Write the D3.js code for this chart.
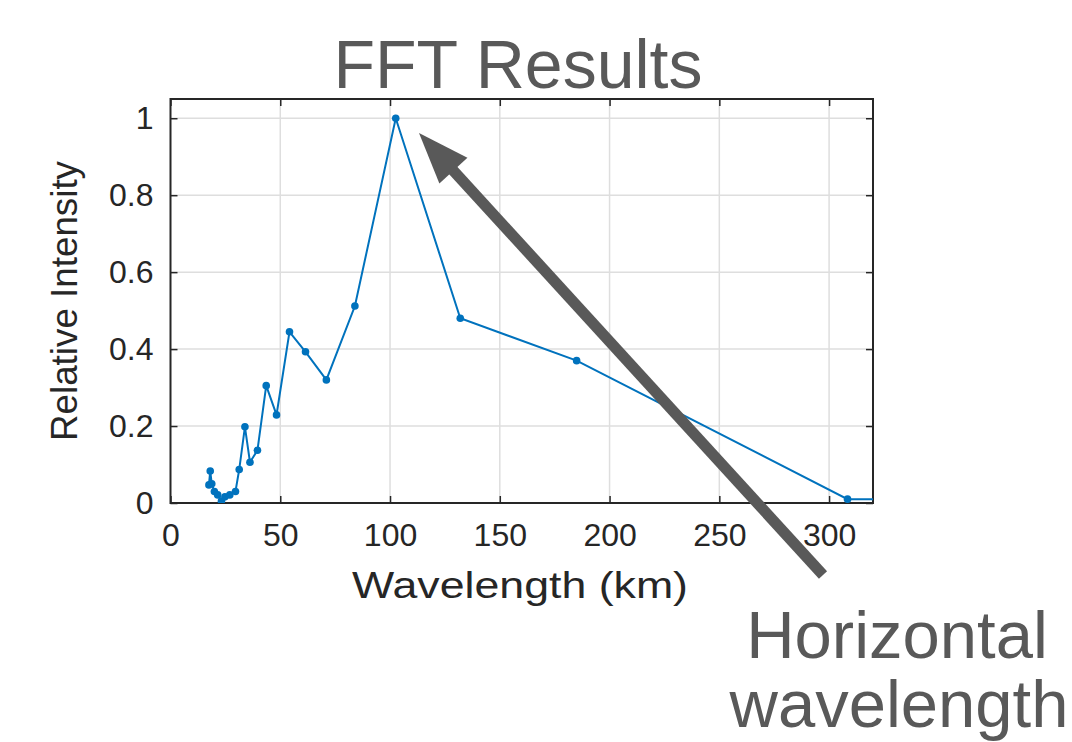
<!DOCTYPE html>
<html>
<head>
<meta charset="utf-8">
<script src="https://cdn.jsdelivr.net/npm/d3@7"></script>
<style>
  html, body { margin: 0; padding: 0; background: #fff; }
  svg { display: block; font-family: "Liberation Sans", Arial, sans-serif; }
</style>
</head>
<body>
<div id="chart"></div>
<script>
// values
var wavelengths = [17.5, 18.1, 18.8, 20.0, 21.5, 23.2, 24.8, 27.0, 29.6, 31.3, 33.9, 36.2, 39.6, 43.6, 48.3, 54.2, 61.5, 71.0, 84.0, 102.6, 132.0, 185.0, 308.4, 924.0];
var intensities = [0.047, 0.083, 0.050, 0.030, 0.021, 0.005, 0.016, 0.021, 0.030, 0.087, 0.198, 0.106, 0.137, 0.305, 0.229, 0.445, 0.393, 0.320, 0.512, 1.0, 0.480, 0.370, 0.010, 0.010];
var xTicks = [0, 50, 100, 150, 200, 250, 300];
var yTicks = [0, 0.2, 0.4, 0.6, 0.8, 1];

var width = 1072, height = 742;
var plot = { left: 170.5, right: 873, top: 99, bottom: 503 };
var axisColor = '#262626';
var gray = '#595959';
var blue = '#0072BD';

var svg = d3.select('#chart')
    .append('svg')
    .attr('width', width)
    .attr('height', height);

var x = d3.scaleLinear().domain([0, 320]).range([plot.left, plot.right]);
var y = d3.scaleLinear().domain([0, 1.05]).range([plot.bottom, plot.top]);

let points = wavelengths.map((w, i) => ({ w: w, v: intensities[i] }));

svg.append('defs').append('clipPath').attr('id', 'clip')
    .append('rect')
    .attr('x', plot.left).attr('y', plot.top)
    .attr('width', plot.right - plot.left)
    .attr('height', plot.bottom - plot.top);

// grid
let grid = svg.append('g').attr('stroke', '#dedede').attr('stroke-width', 1.5);
grid.selectAll('.gx').data(xTicks.filter(d => d > 0)).enter().append('line')
    .attr('x1', d => x(d)).attr('x2', d => x(d))
    .attr('y1', plot.top).attr('y2', plot.bottom);
grid.selectAll('.gy').data(yTicks.filter(d => d > 0)).enter().append('line')
    .attr('x1', plot.left).attr('x2', plot.right)
    .attr('y1', d => y(d)).attr('y2', d => y(d));

// axes (MATLAB style box with inward ticks)
let xAxis = svg.append('g')
    .attr('transform', 'translate(0,' + plot.bottom + ')')
    .call(d3.axisBottom(x).tickValues(xTicks).tickSizeInner(-7).tickSizeOuter(0).tickPadding(20));
let xTop = svg.append('g')
    .attr('transform', 'translate(0,' + plot.top + ')')
    .call(d3.axisTop(x).tickValues(xTicks).tickSizeInner(-7).tickSizeOuter(0).tickFormat(''));
let yAxis = svg.append('g')
    .attr('transform', 'translate(' + plot.left + ',0)')
    .call(d3.axisLeft(y).tickValues(yTicks).tickSizeInner(-7).tickSizeOuter(0).tickPadding(17).tickFormat(d3.format('~g')));
let yRight = svg.append('g')
    .attr('transform', 'translate(' + plot.right + ',0)')
    .call(d3.axisRight(y).tickValues(yTicks).tickSizeInner(-7).tickSizeOuter(0).tickFormat(''));

[xAxis, xTop, yAxis, yRight].forEach(function(g) {
    g.select('.domain').remove();
    g.selectAll('line').attr('stroke', axisColor).attr('stroke-width', 1.5);
    g.selectAll('text').attr('fill', axisColor).attr('font-size', 32)
        .attr('font-family', '"Liberation Sans", Arial, sans-serif');
});
xAxis.selectAll('text').attr('dy', '0.71em');

svg.append('rect')
    .attr('x', plot.left).attr('y', plot.top)
    .attr('width', plot.right - plot.left)
    .attr('height', plot.bottom - plot.top)
    .attr('fill', 'none')
    .attr('stroke', axisColor)
    .attr('stroke-width', 2);

// data line
let line = d3.line().x(d => x(d.w)).y(d => y(d.v));
let series = svg.append('g').attr('clip-path', 'url(#clip)');
series.append('path')
    .datum(points)
    .attr('fill', 'none')
    .attr('stroke', blue)
    .attr('stroke-width', 2)
    .attr('d', line);
series.selectAll('circle')
    .data(points)
    .enter().append('circle')
    .attr('cx', d => x(d.w))
    .attr('cy', d => y(d.v))
    .attr('r', 3.8)
    .attr('fill', blue);

// labels
svg.append('text')
    .attr('x', 520).attr('y', 598)
    .attr('text-anchor', 'middle')
    .attr('font-size', 36)
    .attr('textLength', 336)
    .attr('lengthAdjust', 'spacingAndGlyphs')
    .attr('fill', axisColor)
    .text('Wavelength (km)');

svg.append('text')
    .attr('transform', 'translate(77,301) rotate(-90)')
    .attr('text-anchor', 'middle')
    .attr('font-size', 37)
    .attr('textLength', 280)
    .attr('lengthAdjust', 'spacingAndGlyphs')
    .attr('fill', axisColor)
    .text('Relative Intensity');

svg.append('text')
    .attr('x', 518).attr('y', 88)
    .attr('text-anchor', 'middle')
    .attr('font-size', 68)
    .attr('fill', gray)
    .text('FFT Results');

let note = svg.append('text')
    .attr('text-anchor', 'middle')
    .attr('font-size', 67)
    .attr('fill', gray);
note.append('tspan').attr('x', 897).attr('y', 658).text('Horizontal');
note.append('tspan').attr('x', 899).attr('y', 727).text('wavelength');

// annotation arrow
let tail = [823, 575], tip = [419, 133];
let dx = tip[0] - tail[0], dy = tip[1] - tail[1];
let len = Math.sqrt(dx * dx + dy * dy);
let ux = dx / len, uy = dy / len;
let headLen = 51, headHalf = 19;
let base = [tip[0] - ux * headLen, tip[1] - uy * headLen];
svg.append('line')
    .attr('x1', tail[0]).attr('y1', tail[1])
    .attr('x2', base[0] + ux * 2).attr('y2', base[1] + uy * 2)
    .attr('stroke', gray)
    .attr('stroke-width', 11);
svg.append('path')
    .attr('d', 'M' + tip[0] + ',' + tip[1] +
        'L' + (base[0] - uy * headHalf) + ',' + (base[1] + ux * headHalf) +
        'L' + (base[0] + uy * headHalf) + ',' + (base[1] - ux * headHalf) + 'Z')
    .attr('fill', gray);
</script>
</body>
</html>
